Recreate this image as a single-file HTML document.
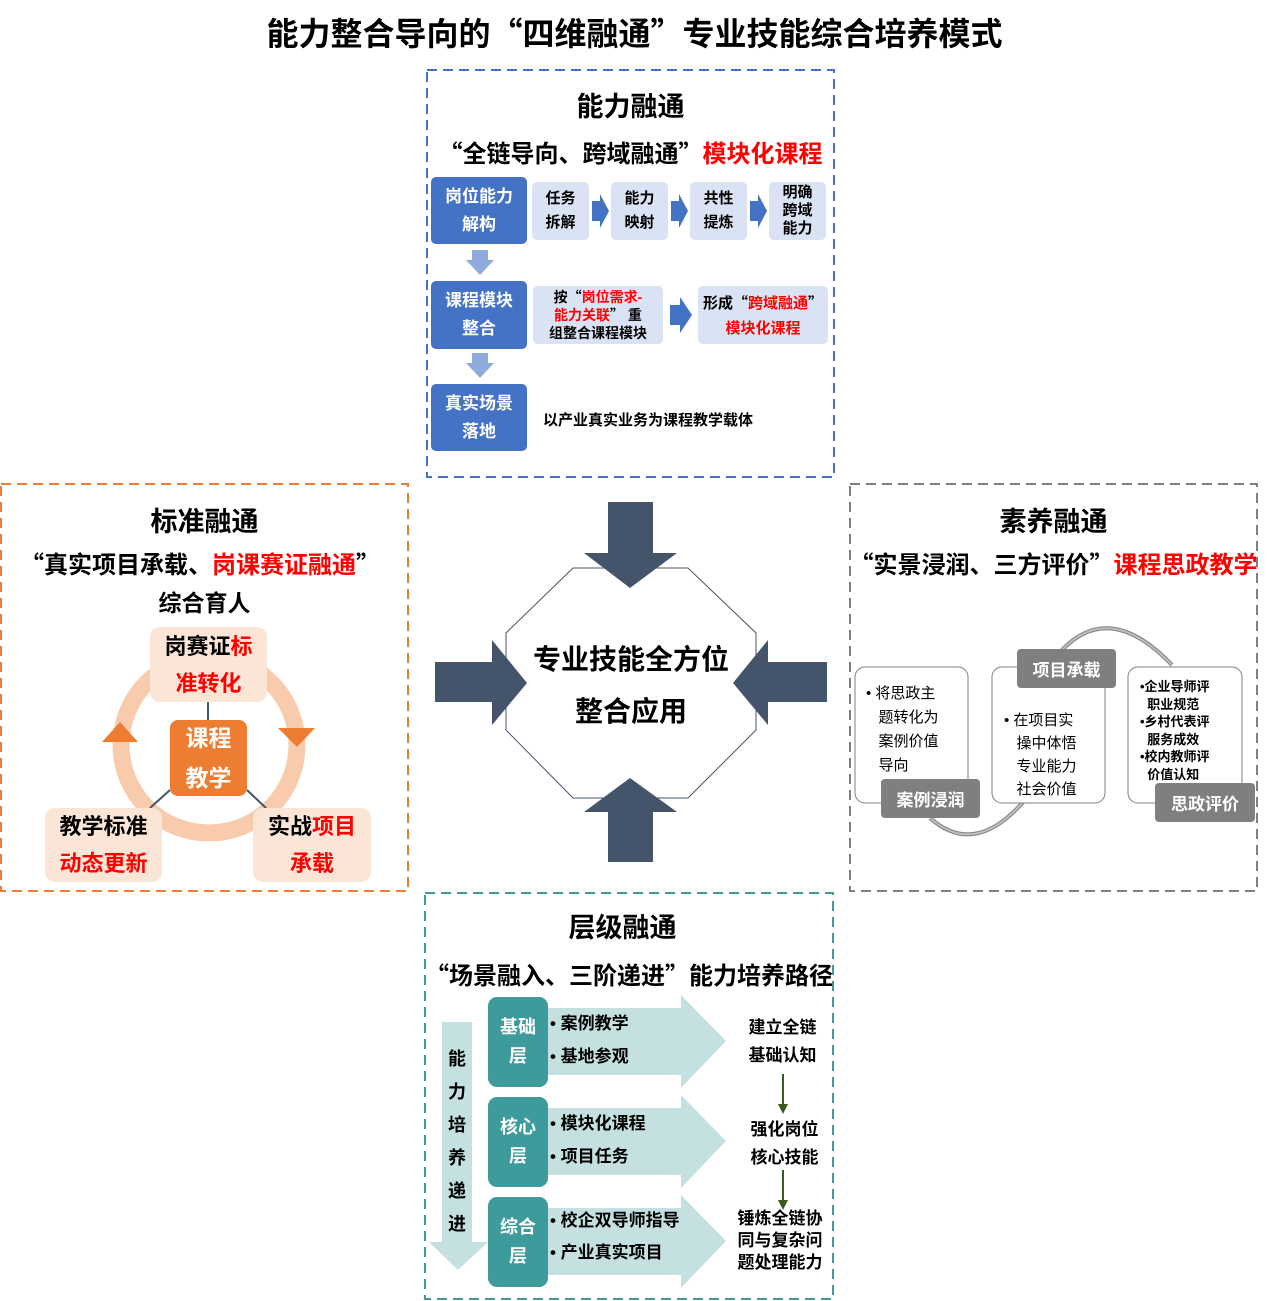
<!DOCTYPE html>
<html><head><meta charset="utf-8">
<style>
*{margin:0;padding:0;box-sizing:border-box}
body{width:1269px;height:1301px;background:#fff;position:relative;overflow:hidden;font-family:"Liberation Sans","Noto Sans CJK SC",sans-serif;font-weight:bold;color:#000}
.a{position:absolute}
.c{position:absolute;display:flex;align-items:center;justify-content:center;text-align:center}
.c>div{white-space:nowrap}
.r{color:#f00}
.q{font-family:"Noto Sans CJK SC",sans-serif}
svg{position:absolute;left:0;top:0}
</style></head><body>
<svg width="1269" height="1301" viewBox="0 0 1269 1301">
<rect x="427" y="70" width="407" height="407" fill="none" stroke="#4472c4" stroke-width="2" stroke-dasharray="10,6"/>
<rect x="1" y="484" width="407" height="407" fill="none" stroke="#ed7d31" stroke-width="2" stroke-dasharray="10,6"/>
<rect x="850" y="484" width="407" height="407" fill="none" stroke="#7f7f7f" stroke-width="2" stroke-dasharray="10,6"/>
<rect x="425" y="893" width="408" height="406" fill="none" stroke="#3d9b9b" stroke-width="2" stroke-dasharray="10,6"/>
<rect x="431" y="177" width="96" height="67" rx="5" fill="#4472c4"/>
<rect x="431" y="281" width="96" height="68" rx="5" fill="#4472c4"/>
<rect x="431" y="384" width="96" height="67" rx="5" fill="#4472c4"/>
<rect x="532" y="182" width="57" height="58" rx="5" fill="#dae3f3"/>
<rect x="611" y="182" width="57" height="58" rx="5" fill="#dae3f3"/>
<rect x="690" y="182" width="57" height="58" rx="5" fill="#dae3f3"/>
<rect x="769" y="182" width="57" height="58" rx="5" fill="#dae3f3"/>
<rect x="533" y="286" width="130" height="58" rx="5" fill="#dae3f3"/>
<rect x="698" y="286" width="130" height="58" rx="5" fill="#dae3f3"/>
<g fill="#4472c4">
<polygon points="592,201 600,201 600,194 609,211 600,228 600,221 592,221"/>
<polygon points="671,201 679,201 679,194 688,211 679,228 679,221 671,221"/>
<polygon points="750,201 758,201 758,194 767,211 758,228 758,221 750,221"/>
<polygon points="670,305 680,305 680,297 692,315 680,333 680,325 670,325"/>
</g>
<g fill="#8faadc">
<polygon points="472,250 488,250 488,260 494,260 480,275 466,260 472,260"/>
<polygon points="472,353 488,353 488,363 494,363 480,378 466,363 472,363"/>
</g>
<polygon points="573,568 688,568 756,633 756,730 688,798 573,798 506,730 506,633" fill="none" stroke="#44546a" stroke-width="1"/>
<g fill="#44546a">
<polygon points="608,502 653,502 653,553 677,553 630,588 584,553 608,553"/>
<polygon points="608,862 653,862 653,812 677,812 630,778 584,812 608,812"/>
<polygon points="435,662 492,662 492,640 527,683 492,725 492,702 435,702"/>
<polygon points="827,662 768,662 768,640 733,683 768,725 768,702 827,702"/>
</g>
<circle cx="209" cy="745" r="88" fill="none" stroke="#f8cbad" stroke-width="17"/>
<polygon points="102,742 138,742 120,722" fill="#ed7d31"/>
<polygon points="278,728 315,728 297,747" fill="#ed7d31"/>
<line x1="208" y1="702" x2="208" y2="720" stroke="#44546a" stroke-width="2"/>
<line x1="170" y1="790" x2="150" y2="808" stroke="#44546a" stroke-width="2"/>
<line x1="247" y1="790" x2="266" y2="808" stroke="#44546a" stroke-width="2"/>
<rect x="150" y="627" width="117" height="75" rx="10" fill="#fbe5d6"/>
<rect x="170" y="720" width="77" height="76" rx="8" fill="#ed7d31"/>
<rect x="45" y="808" width="117" height="74" rx="10" fill="#fbe5d6"/>
<rect x="253" y="808" width="118" height="74" rx="10" fill="#fbe5d6"/>
<path d="M1062,650 Q1110,600 1172,665" fill="none" stroke="#7f7f7f" stroke-width="4"/>
<path d="M1062,650 Q1110,600 1172,665" fill="none" stroke="#bfbfbf" stroke-width="2"/>
<path d="M930,818 Q975,858 1025,800" fill="none" stroke="#7f7f7f" stroke-width="4"/>
<path d="M930,818 Q975,858 1025,800" fill="none" stroke="#bfbfbf" stroke-width="2"/>
<rect x="855" y="667" width="113" height="136" rx="10" fill="#fff" stroke="#7f7f7f" stroke-width="1"/>
<rect x="992" y="667" width="113" height="136" rx="10" fill="#fff" stroke="#7f7f7f" stroke-width="1"/>
<rect x="1128" y="667" width="114" height="136" rx="10" fill="#fff" stroke="#7f7f7f" stroke-width="1"/>
<rect x="881" y="779" width="99" height="39" rx="4" fill="#7f7f7f"/>
<rect x="1017" y="649" width="99" height="39" rx="4" fill="#7f7f7f"/>
<rect x="1155" y="783" width="100" height="39" rx="4" fill="#7f7f7f"/>
<polygon points="442,1022 472,1022 472,1242 488,1242 458,1270 429,1242 442,1242" fill="#c5e0e0"/>
<g fill="#c5e0e0">
<polygon points="540,1008 681,1008 681,995 726,1041 681,1088 681,1075 540,1075"/>
<polygon points="540,1108 681,1108 681,1095 726,1141 681,1188 681,1175 540,1175"/>
<polygon points="540,1208 681,1208 681,1195 726,1241 681,1288 681,1275 540,1275"/>
</g>
<rect x="488" y="997" width="60" height="90" rx="9" fill="#3d9b9b"/>
<rect x="488" y="1097" width="60" height="90" rx="9" fill="#3d9b9b"/>
<rect x="488" y="1197" width="60" height="90" rx="9" fill="#3d9b9b"/>
<g stroke="#3a5a23" stroke-width="2" fill="#3a5a23">
<line x1="783" y1="1074" x2="783" y2="1106"/><polygon points="778,1104 788,1104 783,1114" stroke="none"/>
<line x1="783" y1="1170" x2="783" y2="1202"/><polygon points="778,1200 788,1200 783,1210" stroke="none"/>
</g>
</svg>

<div class="c" style="left:0;top:9px;width:1269px;height:46px;font-size:32px"><div>能力整合导向的<span class="q">“</span>四维融通<span class="q">”</span>专业技能综合培养模式</div></div>

<div class="c" style="left:427px;top:84px;width:407px;height:40px;font-size:27px"><div>能力融通</div></div>
<div class="c" style="left:427px;top:133px;width:407px;height:36px;font-size:24px"><div><span class="q">“</span>全链导向、跨域融通<span class="q">”</span><span class="r">模块化课程</span></div></div>
<div class="c" style="left:431px;top:177px;width:96px;height:67px;font-size:17px;line-height:28px;color:#fff"><div>岗位能力<br>解构</div></div>
<div class="c" style="left:431px;top:281px;width:96px;height:68px;font-size:17px;line-height:28px;color:#fff"><div>课程模块<br>整合</div></div>
<div class="c" style="left:431px;top:384px;width:96px;height:67px;font-size:17px;line-height:28px;color:#fff"><div>真实场景<br>落地</div></div>
<div class="c" style="left:532px;top:182px;width:57px;height:58px;font-size:15px;line-height:24px"><div>任务<br>拆解</div></div>
<div class="c" style="left:611px;top:182px;width:57px;height:58px;font-size:15px;line-height:24px"><div>能力<br>映射</div></div>
<div class="c" style="left:690px;top:182px;width:57px;height:58px;font-size:15px;line-height:24px"><div>共性<br>提炼</div></div>
<div class="c" style="left:769px;top:182px;width:57px;height:58px;font-size:15px;line-height:18px"><div>明确<br>跨域<br>能力</div></div>
<div class="c" style="left:533px;top:286px;width:130px;height:58px;font-size:14px;line-height:18px"><div>按<span class="q">“</span><span class="r">岗位需求-<br>能力关联</span><span class="q">”</span> 重<br>组整合课程模块</div></div>
<div class="c" style="left:698px;top:286px;width:130px;height:58px;font-size:15px;line-height:25px"><div>形成<span class="q">“</span><span class="r">跨域融通</span><span class="q">”</span><br><span class="r">模块化课程</span></div></div>
<div class="a" style="left:543px;top:409px;font-size:15px;white-space:nowrap">以产业真实业务为课程教学载体</div>

<div class="c" style="left:506px;top:636px;width:250px;height:44px;font-size:28px"><div>专业技能全方位</div></div>
<div class="c" style="left:506px;top:688px;width:250px;height:44px;font-size:28px"><div>整合应用</div></div>

<div class="c" style="left:1px;top:499px;width:407px;height:40px;font-size:27px"><div>标准融通</div></div>
<div class="c" style="left:-10px;top:544px;width:420px;height:36px;font-size:24px"><div><span class="q">“</span>真实项目承载、<span class="r">岗课赛证融通</span><span class="q">”</span></div></div>
<div class="c" style="left:1px;top:583px;width:407px;height:36px;font-size:23px"><div>综合育人</div></div>
<div class="c" style="left:150px;top:627px;width:117px;height:75px;font-size:22px;line-height:37px"><div>岗赛证<span class="r">标</span><br><span class="r">准转化</span></div></div>
<div class="c" style="left:170px;top:720px;width:77px;height:76px;font-size:23px;line-height:40px;color:#fff"><div>课程<br>教学</div></div>
<div class="c" style="left:45px;top:808px;width:117px;height:74px;font-size:22px;line-height:37px"><div>教学标准<br><span class="r">动态更新</span></div></div>
<div class="c" style="left:253px;top:808px;width:118px;height:74px;font-size:22px;line-height:37px"><div>实战<span class="r">项目</span><br><span class="r">承载</span></div></div>

<div class="c" style="left:850px;top:499px;width:407px;height:40px;font-size:27px"><div>素养融通</div></div>
<div class="c" style="left:846px;top:544px;width:415px;height:36px;font-size:24px"><div><span class="q">“</span>实景浸润、三方评价<span class="q">”</span><span class="r">课程思政教学</span></div></div>
<div class="a" style="left:866px;top:682px;width:100px;font-size:15px;font-weight:normal;line-height:24px;white-space:nowrap">•&nbsp;将思政主<br>&nbsp;&nbsp;&nbsp;题转化为<br>&nbsp;&nbsp;&nbsp;案例价值<br>&nbsp;&nbsp;&nbsp;导向</div>
<div class="a" style="left:1004px;top:709px;width:100px;font-size:15px;font-weight:normal;line-height:23px;white-space:nowrap">•&nbsp;在项目实<br>&nbsp;&nbsp;&nbsp;操中体悟<br>&nbsp;&nbsp;&nbsp;专业能力<br>&nbsp;&nbsp;&nbsp;社会价值</div>
<div class="a" style="left:1140px;top:678px;width:100px;font-size:13px;line-height:17.5px;white-space:nowrap">•企业导师评<br>&nbsp;&nbsp;职业规范<br>•乡村代表评<br>&nbsp;&nbsp;服务成效<br>•校内教师评<br>&nbsp;&nbsp;价值认知</div>
<div class="c" style="left:881px;top:779px;width:99px;height:39px;font-size:17px;color:#fff"><div>案例浸润</div></div>
<div class="c" style="left:1017px;top:649px;width:99px;height:39px;font-size:17px;color:#fff"><div>项目承载</div></div>
<div class="c" style="left:1155px;top:783px;width:100px;height:39px;font-size:17px;color:#fff"><div>思政评价</div></div>

<div class="c" style="left:425px;top:905px;width:395px;height:40px;font-size:27px"><div>层级融通</div></div>
<div class="c" style="left:411px;top:955px;width:436px;height:36px;font-size:24px"><div><span class="q">“</span>场景融入、三阶递进<span class="q">”</span>能力培养路径</div></div>
<div class="a" style="left:447px;top:1043px;width:20px;font-size:18px;line-height:33px;text-align:center">能<br>力<br>培<br>养<br>递<br>进</div>
<div class="c" style="left:488px;top:997px;width:60px;height:90px;font-size:18px;line-height:29px;color:#fff"><div>基础<br>层</div></div>
<div class="c" style="left:488px;top:1097px;width:60px;height:90px;font-size:18px;line-height:29px;color:#fff"><div>核心<br>层</div></div>
<div class="c" style="left:488px;top:1197px;width:60px;height:90px;font-size:18px;line-height:29px;color:#fff"><div>综合<br>层</div></div>
<div class="a" style="left:550px;top:1007px;font-size:17px;line-height:33px;white-space:nowrap">•&nbsp;案例教学<br>•&nbsp;基地参观</div>
<div class="a" style="left:550px;top:1107px;font-size:17px;line-height:33px;white-space:nowrap">•&nbsp;模块化课程<br>•&nbsp;项目任务</div>
<div class="a" style="left:550px;top:1205px;font-size:17px;line-height:32px;white-space:nowrap">•&nbsp;校企双导师指导<br>•&nbsp;产业真实项目</div>
<div class="c" style="left:730px;top:1014px;width:105px;height:56px;font-size:17px;line-height:28px"><div>建立全链<br>基础认知</div></div>
<div class="c" style="left:732px;top:1116px;width:105px;height:56px;font-size:17px;line-height:28px"><div>强化岗位<br>核心技能</div></div>
<div class="c" style="left:728px;top:1207px;width:104px;height:68px;font-size:17px;line-height:22px"><div>锤炼全链协<br>同与复杂问<br>题处理能力</div></div>
</body></html>
